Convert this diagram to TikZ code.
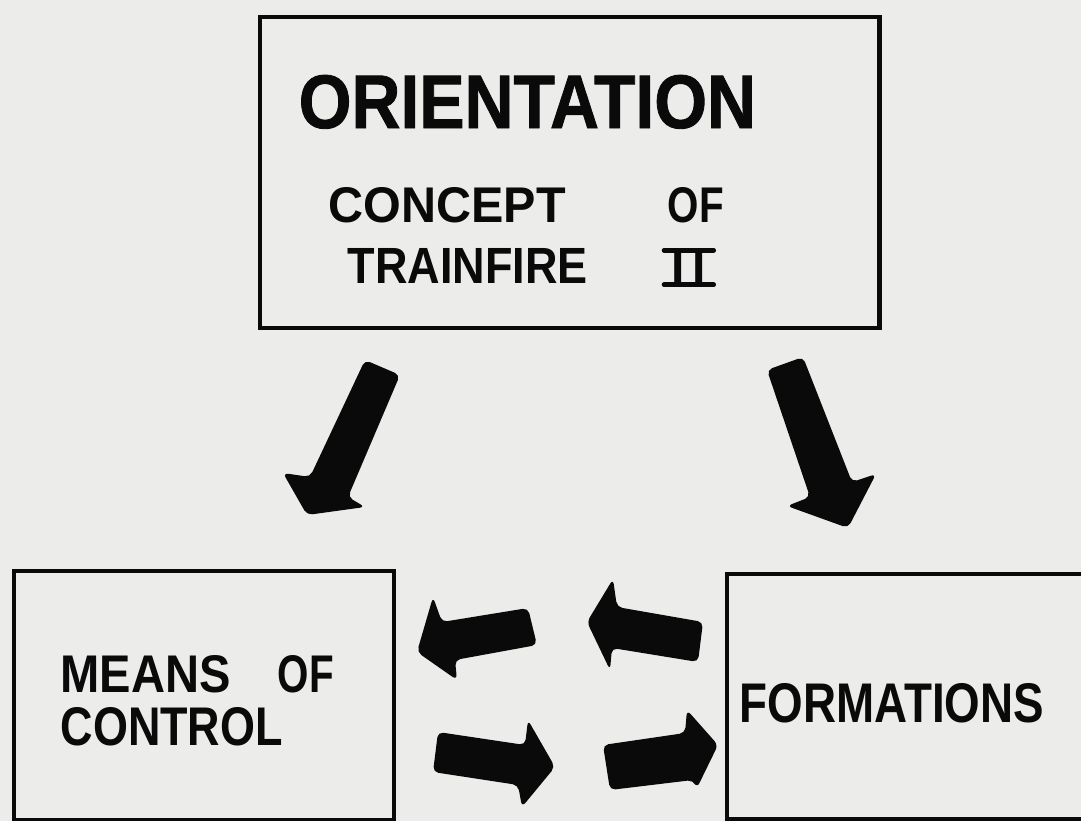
\documentclass[tikz,border=0pt]{standalone}
\usepackage{fontspec}
\setmainfont{Liberation Sans}
\newfontfamily\heavyfont{Liberation Sans Bold}[FakeBold=1.2]
\usepackage{graphicx}
\definecolor{paper}{RGB}{236,236,234}
\definecolor{ink}{RGB}{10,10,10}
\newcommand\sz[3]{\resizebox{#1cm}{#2cm}{#3}}
\tikzset{
  box/.style={draw=ink, line width=1.2pt, inner sep=0pt, anchor=north west},
  lbl/.style={inner sep=0pt, anchor=base west, text=ink, font=\bfseries},
  fat/.style={fill=ink, rounded corners=1.5pt},
  bar/.style={draw=ink, line width=1.3pt, line cap=round},
}
\begin{document}
\begin{tikzpicture}[x=0.01cm, y=-0.01cm]
\useasboundingbox (0,0) rectangle (1081,821);
\fill[paper] (0,0) rectangle (1081,821);
\begin{scope}
\clip (0,0) rectangle (1081,821);
% boxes
\node[box, minimum width=6.19cm, minimum height=3.11cm] (orient) at (258,15) {};
\node[box, minimum width=3.80cm, minimum height=2.49cm] (means) at (12,569) {};
\node[box, minimum width=3.58cm, minimum height=2.45cm] (form) at (725,572) {};
\end{scope}
% texts
\node[lbl] (t1) at (298,128) {\sz{4.57}{0.53}{\heavyfont ORIENTATION}};
\node[lbl] (t2) at (328,222) {\sz{2.37}{0.35}{CONCEPT}};
\node[lbl] (t3) at (667,222) {\sz{0.56}{0.35}{OF}};
\node[lbl] (t4) at (347,283) {\sz{2.40}{0.35}{TRAINFIRE}};
\node[lbl] (ii) at (671,284) {\resizebox{!}{0.33cm}{I\kern0.16em I}};
\draw[bar] ([xshift=-0.07cm]ii.north west) -- ([xshift=0.07cm]ii.north east);
\draw[bar] ([xshift=-0.07cm]ii.south west) -- ([xshift=0.07cm]ii.south east);
\node[lbl] (m1) at (60,692) {\sz{1.70}{0.37}{MEANS}};
\node[lbl] (m2) at (277,692) {\sz{0.56}{0.37}{OF}};
\node[lbl] (m3) at (60,745) {\sz{2.22}{0.38}{CONTROL}};
\node[lbl] (f1) at (739,722) {\sz{3.04}{0.39}{FORMATIONS}};
% fat arrows
% orientation -> means of control
\fill[fat] (365,360) -- (400,375) -- (348,497) -- (365,507) -- (307,515) -- (283,473) -- (310,477) -- cycle;
% orientation -> formations
\fill[fat] (767,370) -- (803,357) -- (852,482) -- (876,474) -- (848,528) -- (787,506) -- (810,497) -- cycle;
% formations -> means (upper left)
\fill[fat] (528,608) -- (537,645) -- (455,660) -- (457,680) -- (417,652) -- (433,597) -- (442,622) -- cycle;
% formations -> means (upper right)
\fill[fat] (703,622) -- (698,662) -- (612,648) -- (610,670) -- (587,622) -- (613,579) -- (617,607) -- cycle;
% means -> formations (lower left)
\fill[fat] (438,732) -- (525,745) -- (528,720) -- (555,767) -- (522,807) -- (518,785) -- (433,772) -- cycle;
% means -> formations (lower right)
\fill[fat] (603,745) -- (685,733) -- (687,710) -- (718,745) -- (697,788) -- (693,780) -- (610,790) -- cycle;
\end{tikzpicture}
\end{document}
